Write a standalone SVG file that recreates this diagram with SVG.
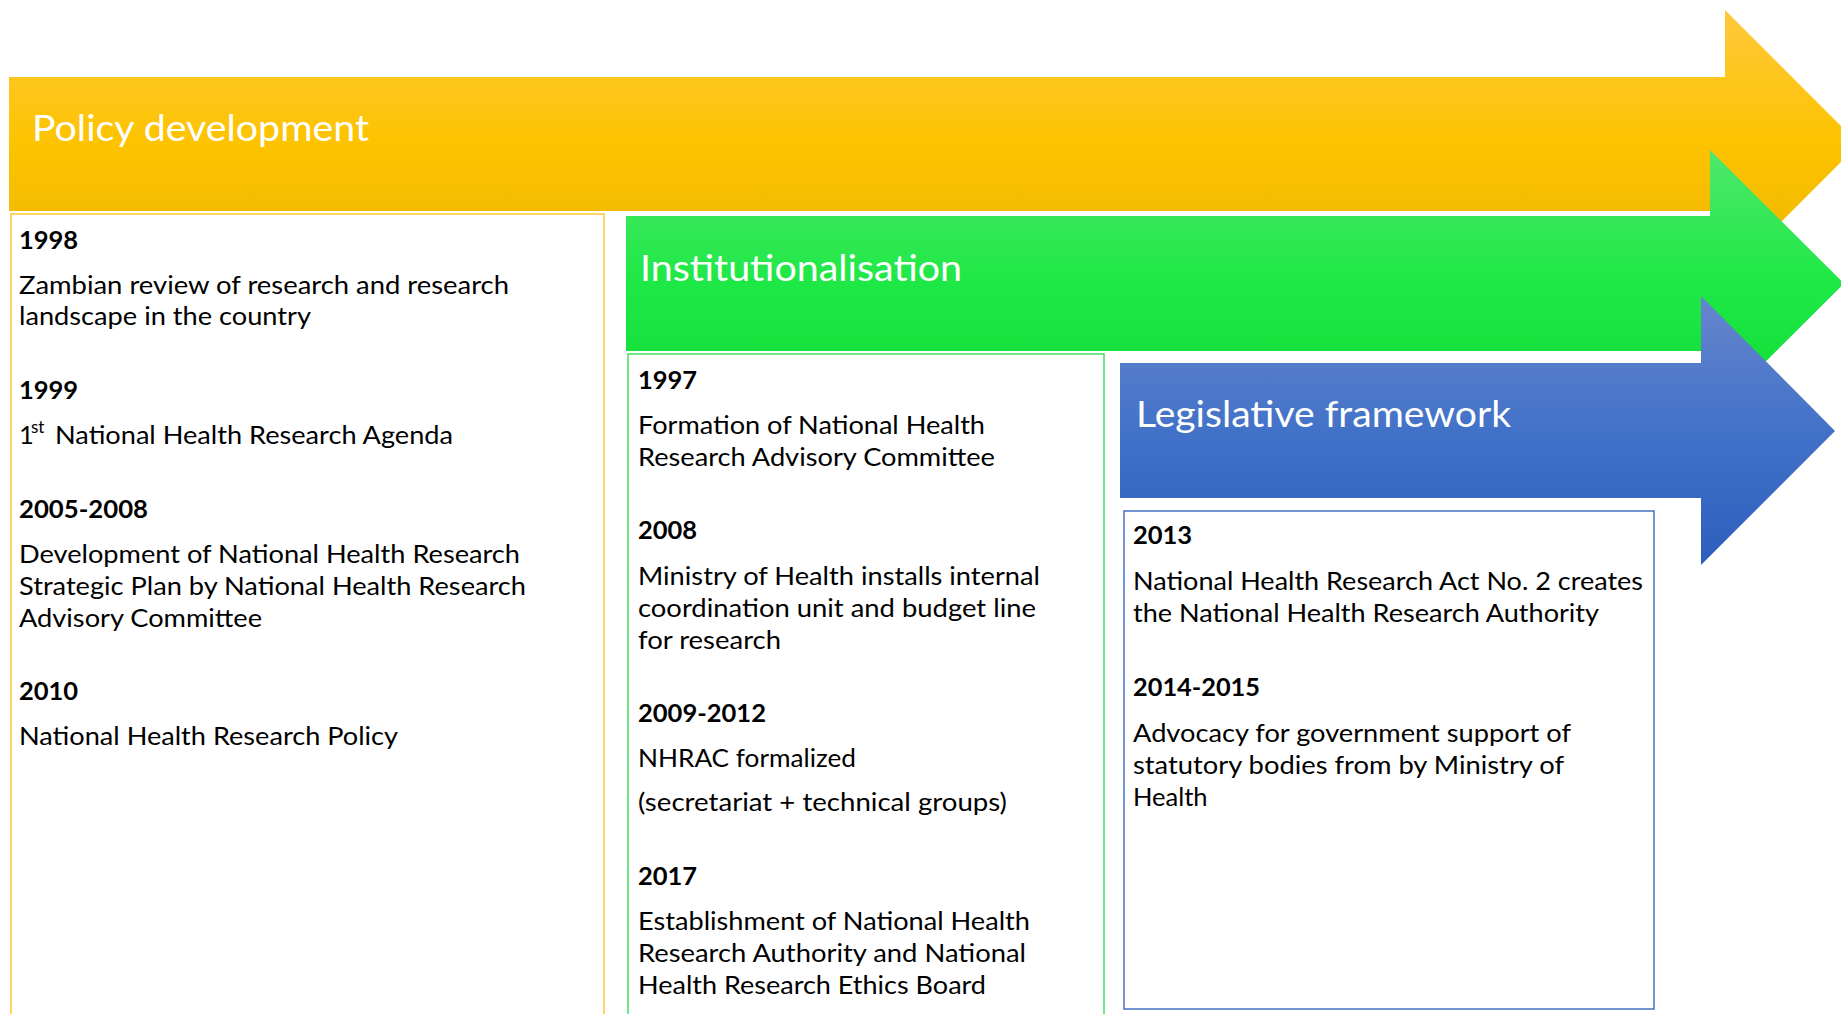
<svg xmlns="http://www.w3.org/2000/svg" width="1841" height="1014" viewBox="0 0 1841 1014">
  <defs>
    <linearGradient id="gOrange" x1="0" y1="0" x2="0" y2="1">
      <stop offset="0" stop-color="#FFC83C"/>
      <stop offset="0.5" stop-color="#FDC300"/>
      <stop offset="1" stop-color="#EDB300"/>
    </linearGradient>
    <linearGradient id="gGreen" x1="0" y1="0" x2="0" y2="1">
      <stop offset="0" stop-color="#4FE86C"/>
      <stop offset="0.5" stop-color="#1EE845"/>
      <stop offset="1" stop-color="#0EDB36"/>
    </linearGradient>
    <linearGradient id="gBlue" x1="0" y1="0" x2="0" y2="1">
      <stop offset="0" stop-color="#6686CD"/>
      <stop offset="0.5" stop-color="#4272C8"/>
      <stop offset="1" stop-color="#2C5EBC"/>
    </linearGradient>
    <style>
      .band { font-family: Lato, "Open Sans", sans-serif; font-size: 36px; fill: #FFFFFF; }
      .yr { font-family: Lato, "Open Sans", sans-serif; font-size: 25.5px; font-weight: bold; fill: #000000; }
      .tx { font-family: Lato, "Open Sans", sans-serif; font-size: 25.5px; fill: #000000; }
      .sup { font-family: Lato, "Open Sans", sans-serif; font-size: 17px; fill: #000000; }
      .box { fill: #FFFFFF; stroke-width: 1.5; }
    </style>
  </defs>

  <rect width="1841" height="1014" fill="#FFFFFF"/>

  <!-- Phase 1: policy development -->
  <g id="arrow-policy">
    <polygon points="9,77 1725,77 1725,10 1859,144 1725,278 1725,211 9,211" fill="url(#gOrange)"/>
    <text class="band" x="32" y="141" textLength="337" lengthAdjust="spacingAndGlyphs">Policy development</text>
  </g>
  <g id="box-policy">
    <rect class="box" x="11" y="214" width="593" height="820" stroke="#FFC72A"/>
    <text class="yr" x="19" y="249">1998</text>
    <text class="tx" x="19" y="294" textLength="490" lengthAdjust="spacingAndGlyphs">Zambian review of research and research</text>
    <text class="tx" x="19" y="325" textLength="292" lengthAdjust="spacingAndGlyphs">landscape in the country</text>
    <text class="yr" x="19" y="399">1999</text>
    <text class="tx" x="19" y="444">1</text>
    <text class="sup" x="31" y="433">st</text>
    <text class="tx" x="55" y="444" textLength="398" lengthAdjust="spacingAndGlyphs">National Health Research Agenda</text>
    <text class="yr" x="19" y="518" textLength="129" lengthAdjust="spacingAndGlyphs">2005-2008</text>
    <text class="tx" x="19" y="563" textLength="501" lengthAdjust="spacingAndGlyphs">Development of National Health Research</text>
    <text class="tx" x="19" y="595" textLength="507" lengthAdjust="spacingAndGlyphs">Strategic Plan by National Health Research</text>
    <text class="tx" x="19" y="627" textLength="243" lengthAdjust="spacingAndGlyphs">Advisory Committee</text>
    <text class="yr" x="19" y="700">2010</text>
    <text class="tx" x="19" y="745" textLength="379" lengthAdjust="spacingAndGlyphs">National Health Research Policy</text>
  </g>

  <!-- Phase 2: institutionalisation -->
  <g id="arrow-institutionalisation">
    <polygon points="626,216 1710,216 1710,150 1844,283.5 1710,417 1710,351 626,351" fill="url(#gGreen)"/>
    <text class="band" x="640" y="281" textLength="322" lengthAdjust="spacingAndGlyphs">Institutionalisation</text>
  </g>
  <g id="box-institutionalisation">
    <rect class="box" x="628" y="354" width="476" height="680" stroke="#3FDF5C"/>
    <text class="yr" x="638" y="389">1997</text>
    <text class="tx" x="638" y="434" textLength="347" lengthAdjust="spacingAndGlyphs">Formation of National Health</text>
    <text class="tx" x="638" y="466" textLength="357" lengthAdjust="spacingAndGlyphs">Research Advisory Committee</text>
    <text class="yr" x="638" y="539">2008</text>
    <text class="tx" x="638" y="585" textLength="402" lengthAdjust="spacingAndGlyphs">Ministry of Health installs internal</text>
    <text class="tx" x="638" y="617" textLength="398" lengthAdjust="spacingAndGlyphs">coordination unit and budget line</text>
    <text class="tx" x="638" y="649" textLength="143" lengthAdjust="spacingAndGlyphs">for research</text>
    <text class="yr" x="638" y="722" textLength="128" lengthAdjust="spacingAndGlyphs">2009-2012</text>
    <text class="tx" x="638" y="767" textLength="218" lengthAdjust="spacingAndGlyphs">NHRAC formalized</text>
    <text class="tx" x="638" y="811" textLength="369" lengthAdjust="spacingAndGlyphs">(secretariat + technical groups)</text>
    <text class="yr" x="638" y="885">2017</text>
    <text class="tx" x="638" y="930" textLength="392" lengthAdjust="spacingAndGlyphs">Establishment of National Health</text>
    <text class="tx" x="638" y="962" textLength="388" lengthAdjust="spacingAndGlyphs">Research Authority and National</text>
    <text class="tx" x="638" y="994" textLength="348" lengthAdjust="spacingAndGlyphs">Health Research Ethics Board</text>
  </g>

  <!-- Phase 3: legislative framework -->
  <g id="arrow-legislative">
    <polygon points="1120,363 1701,363 1701,296 1835,431 1701,565 1701,498 1120,498" fill="url(#gBlue)"/>
    <text class="band" x="1136" y="427" textLength="375" lengthAdjust="spacingAndGlyphs">Legislative framework</text>
  </g>
  <g id="box-legislative">
    <rect class="box" x="1124" y="511" width="530" height="498" stroke="#4472C4"/>
    <text class="yr" x="1133" y="544">2013</text>
    <text class="tx" x="1133" y="590" textLength="510" lengthAdjust="spacingAndGlyphs">National Health Research Act No. 2 creates</text>
    <text class="tx" x="1133" y="622" textLength="466" lengthAdjust="spacingAndGlyphs">the National Health Research Authority</text>
    <text class="yr" x="1133" y="696" textLength="127" lengthAdjust="spacingAndGlyphs">2014-2015</text>
    <text class="tx" x="1133" y="742" textLength="438" lengthAdjust="spacingAndGlyphs">Advocacy for government support of</text>
    <text class="tx" x="1133" y="774" textLength="431" lengthAdjust="spacingAndGlyphs">statutory bodies from by Ministry of</text>
    <text class="tx" x="1133" y="806">Health</text>
  </g>

  <g id="connectors"/>
</svg>
